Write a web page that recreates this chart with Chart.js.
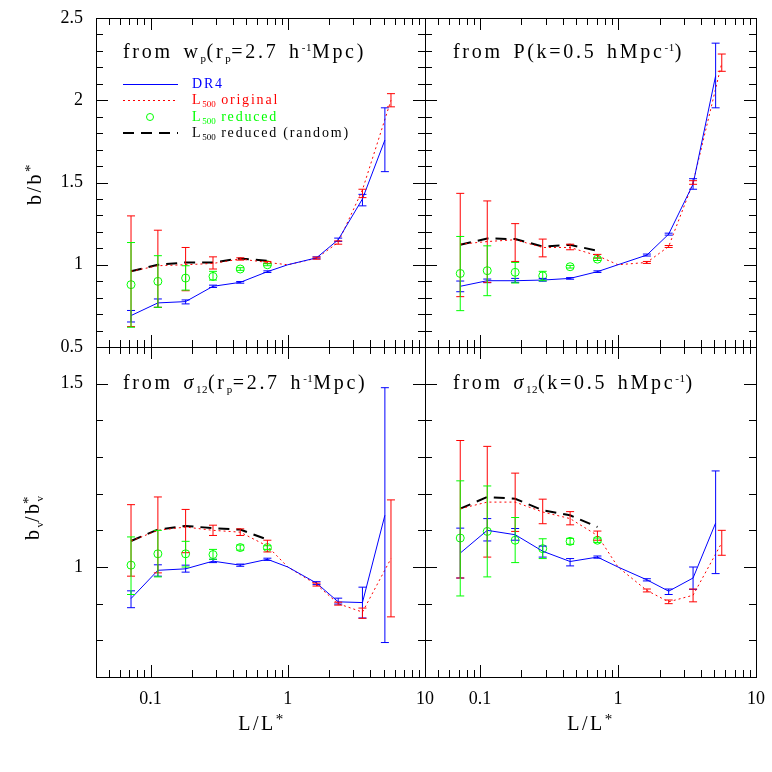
<!DOCTYPE html>
<html>
<head>
<meta charset="utf-8">
<script src="https://cdn.jsdelivr.net/npm/chart.js@4.4.0/dist/chart.umd.min.js"></script>
<style>
  body { margin: 0; background: #fff; }
  #wrap { position: relative; width: 772px; height: 772px; overflow: hidden; }
  canvas { position: absolute; left: 0; top: 0; }
  .txt { position: absolute; font-family: 'Liberation Serif', 'DejaVu Serif', serif; color: #000; white-space: nowrap; line-height: 1; }
  .plab { font-size: 20px; letter-spacing: 2.7px; word-spacing: 3px; }
  .plab sub { font-size: 11px; vertical-align: -4px; letter-spacing: 0.5px; }
  .plab sup { font-size: 11px; vertical-align: 7px; letter-spacing: 0.5px; }
  .leg { font-size: 14px; letter-spacing: 1.8px; }
  .leg sub { font-size: 9px; vertical-align: -3px; letter-spacing: 0; }
  .axt { font-size: 20px; letter-spacing: 2.5px; }
  .axt sub { font-size: 11px; vertical-align: -4px; letter-spacing: 0; }
  .axt sup { font-size: 15px; vertical-align: 6px; }
</style>
</head>
<body>
<div id="wrap">
  <canvas id="c1" width="772" height="772"></canvas>
  <canvas id="c2" width="772" height="772"></canvas>
  <canvas id="c3" width="772" height="772"></canvas>
  <canvas id="c4" width="772" height="772"></canvas>
  <canvas id="leg" width="772" height="772"></canvas>

  <div class="txt plab" style="left:123px;top:41px;">from w<sub>p</sub>(r<sub>p</sub>=2.7 h<sup>-1</sup>Mpc)</div>
  <div class="txt plab" style="left:453px;top:41px;">from P(k=0.5 hMpc<sup>-1</sup>)</div>
  <div class="txt plab" style="left:123px;top:372px;">from <i>σ</i><sub>12</sub>(r<sub>p</sub>=2.7 h<sup>-1</sup>Mpc)</div>
  <div class="txt plab" style="left:453px;top:372px;">from <i>σ</i><sub>12</sub>(k=0.5 hMpc<sup>-1</sup>)</div>

  <div class="txt leg" style="left:192px;top:77px;color:#0000ff;">DR4</div>
  <div class="txt leg" style="left:192px;top:93px;color:#ff0000;">L<sub>500</sub> original</div>
  <div class="txt leg" style="left:192px;top:110px;color:#00ff00;">L<sub>500</sub> reduced</div>
  <div class="txt leg" style="left:192px;top:126px;color:#000;">L<sub>500</sub> reduced (random)</div>

  <div class="txt axt" style="left:-7px;top:173px;width:80px;text-align:center;transform:rotate(-90deg);">b/b<sup>*</sup></div>
  <div class="txt axt" style="left:-7px;top:505px;width:80px;text-align:center;transform:rotate(-90deg);">b<sub>v</sub>/b<sub>v</sub><sup style="margin-left:-8px;">*</sup></div>
  <div class="txt axt" style="left:222px;top:712px;width:80px;text-align:center;">L/L<sup>*</sup></div>
  <div class="txt axt" style="left:551px;top:712px;width:80px;text-align:center;">L/L<sup>*</sup></div>
</div>
<script>
// ---------- x positions (L/L*) ----------
const X_DR4  = [0.072, 0.113, 0.18, 0.285, 0.45, 0.71, 1.0, 1.62, 2.33, 3.5, 5.1];
const X_L500 = [0.072, 0.113, 0.18, 0.285, 0.45, 0.71, 1.0, 1.62, 2.33, 3.5, 5.65];
const X_RED  = [0.072, 0.113, 0.18, 0.285, 0.45, 0.71];

// ---------- panel 1: from w_p ----------
const WP_DR4    = [0.691, 0.768, 0.776, 0.869, 0.893, 0.958, 1.0, 1.042, 1.152, 1.40, 1.758];
const WP_DR4_LO = [0.652, 0.741, 0.762, 0.862, 0.888, 0.953, 1.0, 1.036, 1.142, 1.358, 1.566];
const WP_DR4_HI = [0.722, 0.792, 0.786, 0.876, 0.898, 0.963, 1.0, 1.048, 1.162, 1.428, 1.954];
const WP_L500    = [0.96, 0.994, 1.0, 1.008, 1.035, 1.014, 1.0, 1.04, 1.135, 1.455, 2.0];
const WP_L500_LO = [0.624, 0.741, 0.842, 0.974, 1.028, 1.008, 1.0, 1.034, 1.125, 1.408, 1.96];
const WP_L500_HI = [1.297, 1.21, 1.105, 1.048, 1.042, 1.02, 1.0, 1.046, 1.145, 1.459, 2.04];
const WP_RED    = [0.879, 0.899, 0.919, 0.929, 0.974, 1.0];
const WP_RED_LO = [0.62, 0.741, 0.846, 0.907, 0.966, 0.994];
const WP_RED_HI = [1.135, 1.055, 0.994, 0.96, 0.982, 1.006];
const WP_RAND   = [0.96, 1.0, 1.014, 1.014, 1.038, 1.024];

// ---------- panel 2: from P(k) ----------
const PK_DR4    = [0.869, 0.903, 0.903, 0.907, 0.917, 0.958, 1.0, 1.059, 1.186, 1.49, 2.149];
const PK_DR4_LO = [0.836, 0.891, 0.893, 0.9, 0.912, 0.953, 1.0, 1.053, 1.18, 1.459, 1.954];
const PK_DR4_HI = [0.901, 0.913, 0.917, 0.917, 0.922, 0.963, 1.0, 1.065, 1.192, 1.523, 2.347];
const PK_L500    = [1.125, 1.141, 1.152, 1.105, 1.105, 1.055, 1.0, 1.014, 1.111, 1.499, 2.226];
const PK_L500_LO = [0.806, 0.893, 1.02, 1.048, 1.091, 1.04, 1.0, 1.008, 1.105, 1.489, 2.176];
const PK_L500_HI = [1.434, 1.388, 1.25, 1.156, 1.125, 1.063, 1.0, 1.02, 1.117, 1.511, 2.281];
const PK_RED    = [0.947, 0.964, 0.954, 0.933, 0.988, 1.034];
const PK_RED_LO = [0.721, 0.812, 0.889, 0.903, 0.98, 1.026];
const PK_RED_HI = [1.172, 1.115, 1.014, 0.96, 0.996, 1.042];
const PK_RAND   = [1.121, 1.16, 1.156, 1.111, 1.121, 1.085];

// ---------- panel 3: from sigma12 (r_p) ----------
const SR_DR4    = [0.914, 0.991, 0.995, 1.016, 1.005, 1.021, 1.0, 0.956, 0.905, 0.903, 1.141];
const SR_DR4_LO = [0.889, 0.975, 0.986, 1.012, 1.002, 1.018, 1.0, 0.952, 0.899, 0.861, 0.794];
const SR_DR4_HI = [0.935, 1.006, 1.005, 1.021, 1.008, 1.024, 1.0, 0.96, 0.915, 0.945, 1.489];
const SR_L500    = [1.071, 1.1, 1.109, 1.1, 1.095, 1.057, 1.0, 0.952, 0.9, 0.877, 1.023];
const SR_L500_LO = [0.975, 0.984, 1.039, 1.086, 1.086, 1.041, 1.0, 0.948, 0.896, 0.86, 0.864];
const SR_L500_HI = [1.17, 1.191, 1.157, 1.114, 1.104, 1.073, 1.0, 0.956, 0.904, 0.888, 1.183];
const SR_RED    = [1.005, 1.036, 1.036, 1.034, 1.053, 1.053];
const SR_RED_LO = [0.925, 0.973, 1.0, 1.021, 1.046, 1.048];
const SR_RED_HI = [1.082, 1.1, 1.07, 1.048, 1.06, 1.058];
const SR_RAND   = [1.071, 1.102, 1.112, 1.106, 1.102, 1.075];

// ---------- panel 4: from sigma12 (k) ----------
const SK_DR4    = [1.038, 1.1, 1.088, 1.043, 1.015, 1.027, 1.0, 0.965, 0.934, 0.97, 1.12];
const SK_DR4_LO = [0.97, 1.071, 1.073, 1.027, 1.003, 1.024, 1.0, 0.962, 0.925, 0.939, 0.982];
const SK_DR4_HI = [1.106, 1.132, 1.105, 1.057, 1.023, 1.03, 1.0, 0.968, 0.94, 1.0, 1.262];
const SK_L500    = [1.159, 1.177, 1.177, 1.15, 1.132, 1.086, 1.0, 0.936, 0.905, 0.923, 1.066];
const SK_L500_LO = [0.97, 1.027, 1.097, 1.118, 1.115, 1.073, 1.0, 0.932, 0.9, 0.905, 1.032];
const SK_L500_HI = [1.345, 1.329, 1.256, 1.185, 1.151, 1.098, 1.0, 0.94, 0.91, 0.94, 1.1];
const SK_RED    = [1.079, 1.097, 1.073, 1.05, 1.07, 1.073];
const SK_RED_LO = [0.921, 0.973, 1.012, 1.023, 1.062, 1.067];
const SK_RED_HI = [1.235, 1.221, 1.135, 1.077, 1.078, 1.079];
const SK_RAND   = [1.159, 1.191, 1.186, 1.155, 1.141, 1.109];

// ---------- axis ranges / tick labels ----------
const X_MIN = 0.04, X_MAX = 10;
const X_TICK_LABELS = [0.1, 1, 10];
const Y_TOP_RANGE = [0.5, 2.5];
const Y_BOT_RANGE = [0.7, 1.6];
const Y_TICK_LABELS = [0.5, 1, 1.5, 2, 2.5];

const BLUE = '#0000ff', RED = '#ff0000', GREEN = '#00ff00', BLACK = '#000000';
const FONT = "'Liberation Serif', 'DejaVu Serif', serif";

const pts = (xs, ys) => ys.map((v, i) => ({ x: xs[i], y: v }));

const framePlugin = {
  id: 'framePlugin',
  afterDatasetsDraw(chart) {
    const { ctx, chartArea: a } = chart;
    const xs = chart.scales.x, ys = chart.scales.y;
    ctx.save();
    chart.data.datasets.forEach(ds => {
      if (!ds.errLo) return;
      ctx.strokeStyle = ds.errColor;
      ctx.lineWidth = 1;
      ds.data.forEach((p, j) => {
        const px = xs.getPixelForValue(p.x);
        const y1 = ys.getPixelForValue(ds.errLo[j]);
        const y2 = ys.getPixelForValue(ds.errHi[j]);
        if (Math.abs(y1 - y2) < 0.8) return;
        ctx.beginPath();
        ctx.moveTo(px, y1); ctx.lineTo(px, y2);
        ctx.moveTo(px - 4, y1); ctx.lineTo(px + 4, y1);
        ctx.moveTo(px - 4, y2); ctx.lineTo(px + 4, y2);
        ctx.stroke();
      });
    });
    ctx.strokeStyle = '#000';
    ctx.lineWidth = 1;
    ctx.strokeRect(Math.round(a.left) + 0.5, Math.round(a.top) + 0.5,
                   Math.round(a.right - a.left), Math.round(a.bottom - a.top));
    ctx.beginPath();
    for (let d = -2; d <= 1; d++) {
      for (let m = 1; m <= 9; m++) {
        const v = m * Math.pow(10, d);
        if (v < X_MIN * 0.999 || v > X_MAX * 1.001) continue;
        const px = Math.round(xs.getPixelForValue(v)) + 0.5;
        const len = m === 1 ? 12 : 7;
        ctx.moveTo(px, a.bottom); ctx.lineTo(px, a.bottom - len);
        ctx.moveTo(px, a.top); ctx.lineTo(px, a.top + len);
      }
    }
    for (let k = Math.round(ys.min * 10); k <= Math.round(ys.max * 10); k++) {
      const py = Math.round(ys.getPixelForValue(k / 10)) + 0.5;
      const len = k % 5 === 0 ? 12 : 7;
      ctx.moveTo(a.left, py); ctx.lineTo(a.left + len, py);
      ctx.moveTo(a.right, py); ctx.lineTo(a.right - len, py);
    }
    ctx.stroke();
    ctx.restore();
  }
};

function makePanel(id, p) {
  const datasets = [
    { label: 'DR4', data: pts(X_DR4, p.dr4), showLine: true, borderColor: BLUE, borderWidth: 1,
      pointRadius: 0, errLo: p.dr4Lo, errHi: p.dr4Hi, errColor: BLUE },
    { label: 'L500 original', data: pts(X_L500, p.l500), showLine: true, borderColor: RED, borderWidth: 1,
      borderDash: [2, 3], pointRadius: 0, errLo: p.l500Lo, errHi: p.l500Hi, errColor: RED },
    { label: 'L500 reduced (random)', data: pts(X_RED, p.rand), showLine: true, borderColor: BLACK, borderWidth: 2,
      borderDash: [11, 7], pointRadius: 0 },
    { label: 'L500 reduced', data: pts(X_RED, p.red), showLine: false, borderColor: GREEN,
      backgroundColor: 'rgba(0,0,0,0)', pointRadius: 4, pointBorderWidth: 1, pointStyle: 'circle',
      errLo: p.redLo, errHi: p.redHi, errColor: GREEN }
  ];
  return new Chart(document.getElementById(id), {
    type: 'scatter',
    data: { datasets },
    options: {
      responsive: false,
      animation: false,
      events: [],
      layout: { padding: p.pad },
      plugins: { legend: { display: false }, tooltip: { enabled: false } },
      scales: {
        x: {
          type: 'logarithmic', min: X_MIN, max: X_MAX, position: 'bottom',
          display: p.showX,
          grid: { display: false, drawTicks: false },
          border: { display: false },
          ticks: {
            autoSkip: false, maxRotation: 0, padding: 11, color: '#000',
            font: { family: FONT, size: 18 },
            callback: v => {
              const hit = X_TICK_LABELS.find(t => Math.abs(Math.log10(v) - Math.log10(t)) < 1e-6);
              return hit !== undefined ? String(hit) : '';
            }
          },
          afterFit: s => { s.height = p.showX ? 40 : 0; s.paddingLeft = 0; s.paddingRight = 0; s.paddingTop = 0; s.paddingBottom = 0; }
        },
        y: {
          type: 'linear', min: p.yRange[0], max: p.yRange[1], position: 'left',
          display: p.showY,
          grid: { display: false, drawTicks: false },
          border: { display: false },
          ticks: {
            stepSize: 0.1, autoSkip: false, padding: 13, color: '#000',
            font: { family: FONT, size: 18 },
            callback: v => {
              const hit = Y_TICK_LABELS.find(t => Math.abs(v - t) < 1e-6);
              return hit !== undefined ? String(hit) : '';
            }
          },
          afterFit: s => { s.width = p.showY ? 60 : 0; s.paddingTop = 0; s.paddingBottom = 0; s.paddingLeft = 0; s.paddingRight = 0; }
        }
      }
    },
    plugins: [framePlugin]
  });
}

// chart areas: left 96, mid 425, right 756; top 18, mid 347, bottom 677
makePanel('c1', { dr4: WP_DR4, dr4Lo: WP_DR4_LO, dr4Hi: WP_DR4_HI, l500: WP_L500, l500Lo: WP_L500_LO, l500Hi: WP_L500_HI,
  red: WP_RED, redLo: WP_RED_LO, redHi: WP_RED_HI, rand: WP_RAND, yRange: Y_TOP_RANGE,
  showX: false, showY: true, pad: { left: 36, top: 18, right: 772 - 425, bottom: 772 - 347 } });
makePanel('c2', { dr4: PK_DR4, dr4Lo: PK_DR4_LO, dr4Hi: PK_DR4_HI, l500: PK_L500, l500Lo: PK_L500_LO, l500Hi: PK_L500_HI,
  red: PK_RED, redLo: PK_RED_LO, redHi: PK_RED_HI, rand: PK_RAND, yRange: Y_TOP_RANGE,
  showX: false, showY: false, pad: { left: 425, top: 18, right: 772 - 756, bottom: 772 - 347 } });
makePanel('c3', { dr4: SR_DR4, dr4Lo: SR_DR4_LO, dr4Hi: SR_DR4_HI, l500: SR_L500, l500Lo: SR_L500_LO, l500Hi: SR_L500_HI,
  red: SR_RED, redLo: SR_RED_LO, redHi: SR_RED_HI, rand: SR_RAND, yRange: Y_BOT_RANGE,
  showX: true, showY: true, pad: { left: 36, top: 347, right: 772 - 425, bottom: 772 - 677 - 40 } });
makePanel('c4', { dr4: SK_DR4, dr4Lo: SK_DR4_LO, dr4Hi: SK_DR4_HI, l500: SK_L500, l500Lo: SK_L500_LO, l500Hi: SK_L500_HI,
  red: SK_RED, redLo: SK_RED_LO, redHi: SK_RED_HI, rand: SK_RAND, yRange: Y_BOT_RANGE,
  showX: true, showY: false, pad: { left: 425, top: 347, right: 772 - 756, bottom: 772 - 677 - 40 } });

// legend samples in the first panel
(function legendSamples() {
  const ctx = document.getElementById('leg').getContext('2d');
  const rows = [84, 100, 117, 133];
  ctx.lineWidth = 1;
  ctx.strokeStyle = BLUE; ctx.beginPath(); ctx.moveTo(123, rows[0] + 0.5); ctx.lineTo(178, rows[0] + 0.5); ctx.stroke();
  ctx.strokeStyle = RED; ctx.setLineDash([2, 3]); ctx.beginPath(); ctx.moveTo(123, rows[1] + 0.5); ctx.lineTo(178, rows[1] + 0.5); ctx.stroke();
  ctx.setLineDash([]);
  ctx.strokeStyle = GREEN; ctx.beginPath(); ctx.arc(150, rows[2], 3.5, 0, Math.PI * 2); ctx.stroke();
  ctx.strokeStyle = BLACK; ctx.lineWidth = 2; ctx.setLineDash([11, 7]); ctx.beginPath(); ctx.moveTo(123, rows[3]); ctx.lineTo(178, rows[3]); ctx.stroke();
})();
</script>
</body>
</html>
